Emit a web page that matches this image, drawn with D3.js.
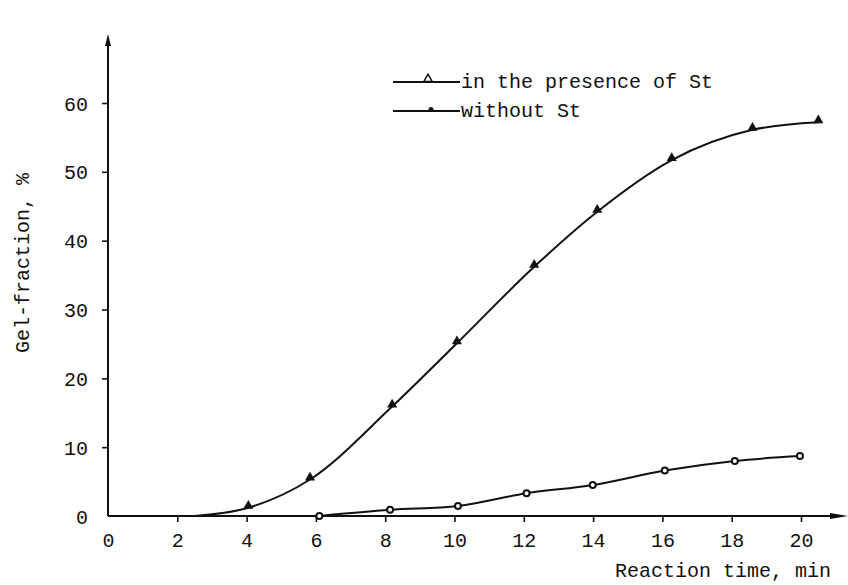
<!DOCTYPE html>
<html><head><meta charset="utf-8">
<script src="https://cdn.jsdelivr.net/npm/d3@7"></script>
<style>
html,body{margin:0;padding:0;background:#fff;}
svg{display:block;}
text{font-family:"Liberation Mono","DejaVu Sans Mono",monospace;fill:#111;}
</style></head>
<body><svg id="chart" width="848" height="585"></svg>
<script>
// ---- data ----
const xTicks = [0, 2, 4, 6, 8, 10, 12, 14, 16, 18, 20];
const yTicks = [0, 10, 20, 30, 40, 50, 60];
const presenceX = [4.05, 5.83, 8.2, 10.07, 12.3, 14.12, 16.27, 18.6, 20.5];
const presenceY = [1.2, 5.3, 15.9, 25.1, 36.2, 44.2, 51.7, 56.1, 57.2];
const presenceStart = [2.5, 0]; // where the drawn curve leaves the axis
const withoutX = [6.1, 8.14, 10.1, 12.08, 13.99, 16.07, 18.09, 19.97];
const withoutY = [0, 0.9, 1.45, 3.3, 4.5, 6.6, 8.0, 8.7];
const seriesNames = ["in the presence of St", "without St"];
const xTitle = "Reaction time, min";
const yTitle = "Gel-fraction, %";

const svg = d3.select("#chart");
const x = d3.scaleLinear().domain([0, 20]).range([108, 801]);
const y = d3.scaleLinear().domain([0, 60]).range([516, 103]);
const x0 = x(0), y0 = y(0);

// axis lines with arrowheads
svg.append("line").attr("x1", x0).attr("y1", y0).attr("x2", x0).attr("y2", 40)
  .attr("stroke", "#111").attr("stroke-width", 2);
svg.append("path").attr("d", `M${x0-3},${46} L${x0},${34} L${x0+3},${46} Z`).attr("fill", "#111");
svg.append("line").attr("x1", x0).attr("y1", y0).attr("x2", 836).attr("y2", y0)
  .attr("stroke", "#111").attr("stroke-width", 2);
svg.append("path").attr("d", `M830,${y0-3} L848,${y0} L830,${y0+3} Z`).attr("fill", "#111");

// x axis ticks & labels
const gx = svg.append("g").attr("transform", `translate(0,${y0})`)
  .call(d3.axisBottom(x).tickValues(xTicks).tickSize(6).tickSizeOuter(0).tickFormat(d3.format("d")));
gx.select(".domain").remove();
gx.selectAll(".tick line").attr("stroke", "#111").attr("stroke-width", 1.6)
  .filter(d => d === 0).remove();
gx.selectAll(".tick text").attr("y", 31).attr("dy", null)
  .style("font-size", "20px").style("font-family", '"Liberation Mono",monospace').attr("fill", "#111");

// y axis ticks & labels
const gy = svg.append("g").attr("transform", `translate(${x0},0)`)
  .call(d3.axisLeft(y).tickValues(yTicks).tickSize(6).tickPadding(14).tickSizeOuter(0).tickFormat(d3.format("d")));
gy.select(".domain").remove();
gy.selectAll(".tick line").attr("stroke", "#111").attr("stroke-width", 1.6)
  .filter(d => d === 0).remove();
gy.selectAll(".tick text").attr("dy", null).attr("y", 7)
  .style("font-size", "20px").style("font-family", '"Liberation Mono",monospace').attr("fill", "#111");

// curves
const presence = [presenceStart].concat(presenceX.map((v, i) => [v, presenceY[i]]));
const without = withoutX.map((v, i) => [v, withoutY[i]]);
const line = d3.line().x(d => x(d[0])).y(d => y(d[1])).curve(d3.curveMonotoneX);
const line2 = d3.line().x(d => x(d[0])).y(d => y(d[1])).curve(d3.curveCatmullRom.alpha(0.5));
svg.append("path").attr("d", line(presence)).attr("fill", "none")
  .attr("stroke", "#111").attr("stroke-width", 2);
svg.append("path").attr("d", line2(without)).attr("fill", "none")
  .attr("stroke", "#111").attr("stroke-width", 2);

// markers
const tri = d3.symbol().type(d3.symbolTriangle).size(44);
svg.selectAll(".tri").data(presenceX).join("path").attr("class", "tri")
  .attr("d", tri).attr("transform", (d, i) => `translate(${x(d)},${y(presenceY[i]) - 2})`)
  .attr("fill", "#111");
svg.selectAll(".circ").data(withoutX).join("circle").attr("class", "circ")
  .attr("cx", d => x(d)).attr("cy", (d, i) => y(withoutY[i]))
  .attr("r", 3).attr("fill", "#fff").attr("stroke", "#111").attr("stroke-width", 2);

// legend
const legY = [82, 111];
seriesNames.forEach((name, i) => {
  svg.append("line").attr("x1", 393).attr("x2", 460).attr("y1", legY[i]).attr("y2", legY[i])
    .attr("stroke", "#111").attr("stroke-width", 2);
  svg.append("text").attr("x", 461).attr("y", legY[i] + 6).style("font-size", "20px").text(name);
});
svg.append("path").attr("d", d3.symbol().type(d3.symbolTriangle).size(30))
  .attr("transform", `translate(428,${legY[0] - 3})`).attr("fill", "#fff").attr("stroke", "#111").attr("stroke-width", 1.5);
svg.append("circle").attr("cx", 431).attr("cy", legY[1] - 1.5).attr("r", 2.5)
  .attr("fill", "#111");

// axis titles
svg.append("text").attr("x", 831).attr("y", 577).attr("text-anchor", "end")
  .style("font-size", "20px").text(xTitle);
svg.append("text").attr("transform", "translate(29,263) rotate(-90)").attr("text-anchor", "middle")
  .style("font-size", "20px").text(yTitle);
</script></body></html>
